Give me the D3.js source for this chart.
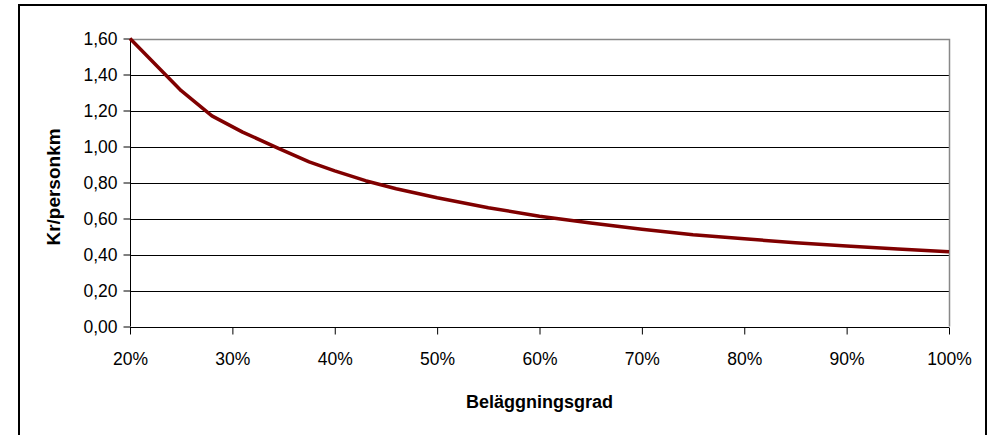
<!DOCTYPE html>
<html>
<head>
<meta charset="utf-8">
<script src="https://cdn.jsdelivr.net/npm/d3@7"></script>
<style>
  html, body { margin: 0; padding: 0; background: #fff; }
  svg { display: block; }
  text { font-family: "Liberation Sans", Arial, sans-serif; fill: #000; }
</style>
</head>
<body>
<svg id="chart" width="991" height="435"></svg>
<script>
// Data
const occupancy = [20, 25, 28, 31, 34.5, 37.5, 40, 43, 46, 50, 55, 60, 65, 70, 75, 80, 85, 90, 95, 100];
const costPerKm = [1.60, 1.31, 1.17, 1.08, 0.99, 0.915, 0.865, 0.81, 0.765, 0.715, 0.66, 0.613, 0.575, 0.54, 0.51, 0.487, 0.465, 0.447, 0.43, 0.415];
const xTicks = [20, 30, 40, 50, 60, 70, 80, 90, 100];
const yTicks = [0, 0.2, 0.4, 0.6, 0.8, 1.0, 1.2, 1.4, 1.6];
const xTitle = "Beläggningsgrad";
const yTitle = "Kr/personkm";

const svg = d3.select("#chart");
const plot = { left: 130, right: 949, top: 38.5, bottom: 326.5 };

// outer chart frame
svg.append("rect")
  .attr("x", 19).attr("y", 5)
  .attr("width", 967).attr("height", 440)
  .attr("fill", "#fff").attr("stroke", "#000").attr("stroke-width", 2);

const x = d3.scaleLinear().domain([20, 100]).range([plot.left, plot.right]);
const y = d3.scaleLinear().domain([0, 1.6]).range([plot.bottom, plot.top]);

const fmt = d => d.toFixed(2).replace(".", ",");

// gridlines
svg.append("g")
  .selectAll("line")
  .data(yTicks.filter(d => d > 0 && d < 1.6))
  .join("line")
  .attr("x1", plot.left).attr("x2", plot.right)
  .attr("y1", d => Math.round(y(d)) + 0.5).attr("y2", d => Math.round(y(d)) + 0.5)
  .attr("stroke", "#000").attr("stroke-width", 1);

// plot border (gray top / right)
svg.append("path")
  .attr("d", `M${plot.left},${Math.round(plot.top)+0.5}H${Math.round(plot.right)+0.5}V${plot.bottom}`)
  .attr("fill", "none").attr("stroke", "#888").attr("stroke-width", 1.5);

// y axis
const yAxis = d3.axisLeft(y).tickValues(yTicks).tickFormat(fmt).tickSize(7).tickPadding(6);
const gy = svg.append("g")
  .attr("transform", `translate(${Math.round(plot.left)+0.5},0)`)
  .call(yAxis);
gy.select(".domain").attr("stroke", "#000").attr("d", `M0,${plot.top}V${plot.bottom}`);
gy.selectAll(".tick line").attr("stroke", "#000");
gy.selectAll(".tick text")
  .style("font-family", "'Liberation Sans', Arial, sans-serif")
  .style("font-size", "17.5px").attr("fill", "#000");

// x axis
const xAxis = d3.axisBottom(x).tickValues(xTicks).tickFormat(d => d + "%").tickSize(7).tickPadding(18);
const gx = svg.append("g")
  .attr("transform", `translate(0,${Math.round(plot.bottom)+0.5})`)
  .call(xAxis);
gx.select(".domain").attr("stroke", "#000").attr("d", `M${plot.left},0H${plot.right}`);
gx.selectAll(".tick line").attr("stroke", "#000");
gx.selectAll(".tick text")
  .style("font-family", "'Liberation Sans', Arial, sans-serif")
  .style("font-size", "17.5px").attr("fill", "#000");

// line
const data = occupancy.map((o, i) => ({ o, v: costPerKm[i] }));
svg.append("path")
  .datum(data)
  .attr("fill", "none")
  .attr("stroke", "#800000")
  .attr("stroke-width", 3.5)
  .attr("stroke-linejoin", "round")
  .attr("d", d3.line().x(d => x(d.o)).y(d => y(d.v)));

// axis titles
svg.append("text")
  .attr("x", (plot.left + plot.right) / 2).attr("y", 408)
  .attr("text-anchor", "middle")
  .style("font-size", "18px").style("font-weight", "bold")
  .text(xTitle);

svg.append("text")
  .attr("transform", "translate(60,187) rotate(-90)")
  .attr("text-anchor", "middle")
  .style("font-size", "19px").style("font-weight", "bold")
  .text(yTitle);
</script>
</body>
</html>
